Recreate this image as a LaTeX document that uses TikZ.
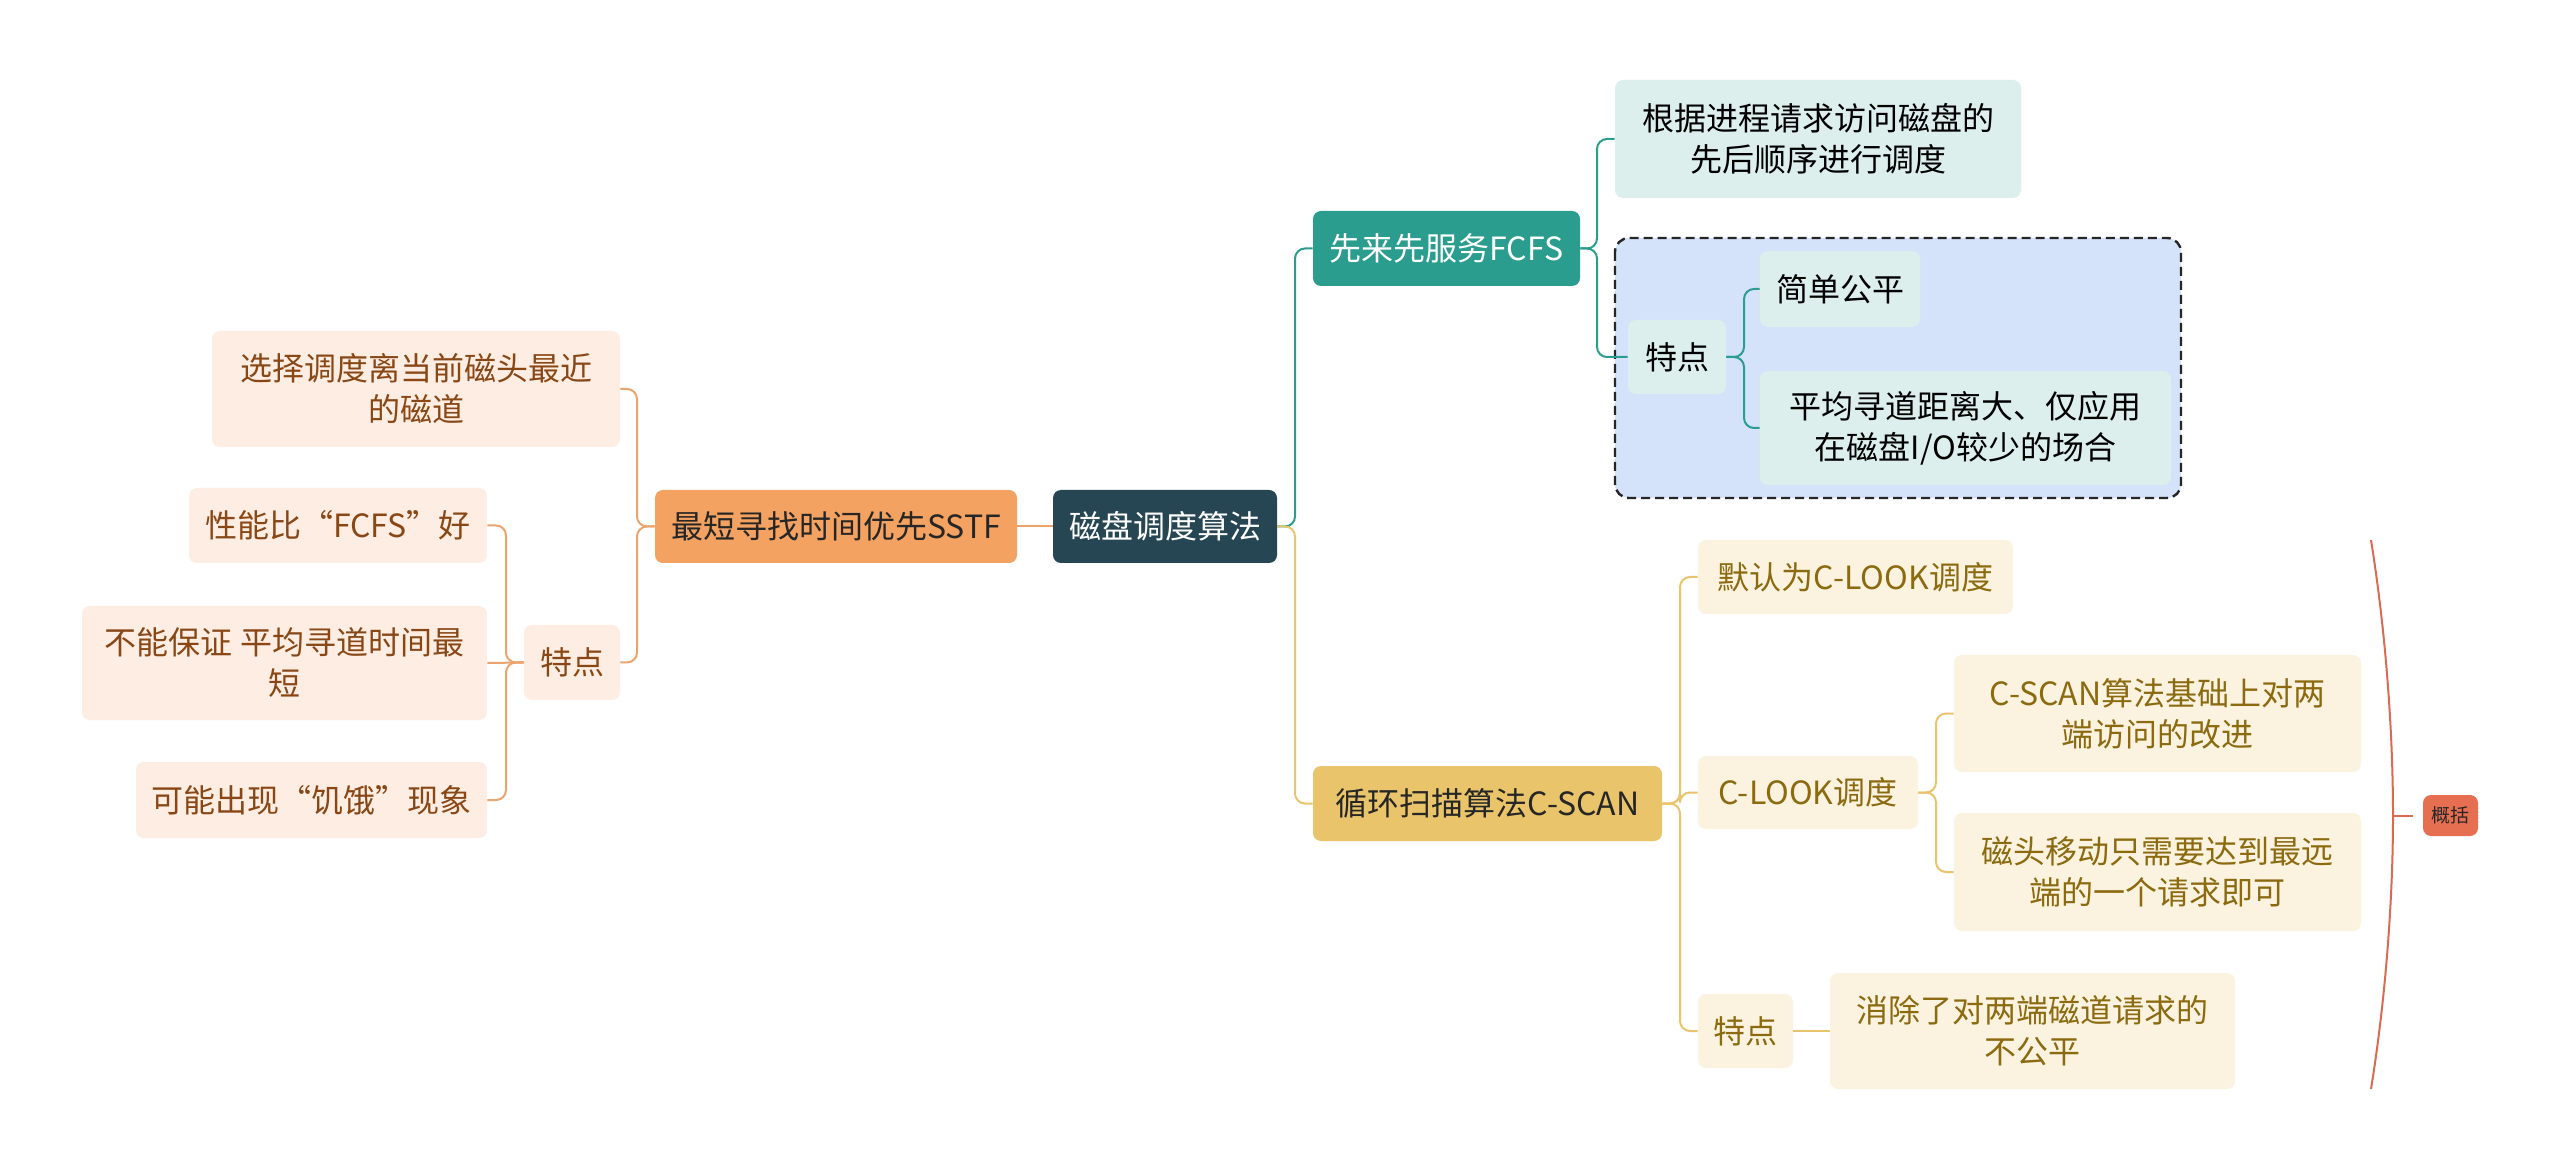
\documentclass[tikz,border=0pt]{standalone}
\usepackage{fontspec}
\setmainfont{Noto Sans CJK SC}
\definecolor{rootc}{HTML}{264653}
\definecolor{sstfc}{HTML}{F4A261}
\definecolor{lfill}{HTML}{FDEDE2}
\definecolor{ltext}{HTML}{8A4716}
\definecolor{lline}{HTML}{EBA46E}
\definecolor{fcfsc}{HTML}{2A9D8F}
\definecolor{ffill}{HTML}{DCEFEC}
\definecolor{dfill}{HTML}{D4E3FA}
\definecolor{cscanc}{HTML}{E9C46A}
\definecolor{cfill}{HTML}{FBF3DF}
\definecolor{ctext}{HTML}{8B6A10}
\definecolor{gkc}{HTML}{E76F51}
\definecolor{brc}{HTML}{D86B52}
\begin{document}
\begin{tikzpicture}[x=0.5pt,y=-0.5pt,
  box/.style={rounded corners=4pt, inner sep=0pt, align=center, font=\fontsize{16}{20.5}\selectfont},
  rootbox/.style={box, fill=rootc, text=white},
  sstfbox/.style={box, fill=sstfc, text=black!85},
  lleaf/.style={box, fill=lfill, text=ltext},
  fcfsbox/.style={box, fill=fcfsc, text=white},
  fleaf/.style={box, fill=ffill, text=black},
  cscanbox/.style={box, fill=cscanc, text=black!85},
  cleaf/.style={box, fill=cfill, text=ctext},
  lconn/.style={draw=lline, line width=1pt, rounded corners=5pt},
  fconn/.style={draw=fcfsc, line width=1pt, rounded corners=5pt},
  cconn/.style={draw=cscanc, line width=1pt, rounded corners=5pt},
]
\useasboundingbox (0,0) rectangle (2560,1170);
\fill[white] (0,0) rectangle (2560,1170);

% dashed group
\draw[fill=dfill, draw=black!85, dash pattern=on 4.5pt off 2.5pt, line width=1.2pt, rounded corners=7pt] (1615,238) rectangle (2181,498);

% root
\node[rootbox, minimum width=112pt, minimum height=36.5pt] (root) at (1165,526.5) {磁盘调度算法};

% SSTF branch
\node[sstfbox, minimum width=181pt, minimum height=36.5pt] (sstf) at (836,526.5) {最短寻找时间优先SSTF};
\node[lleaf, minimum width=204pt, minimum height=58pt] (l1) at (416,389) {选择调度离当前磁头最近\\的磁道};
\node[lleaf, minimum width=48pt, minimum height=37.5pt] (ltd) at (572,662.5) {特点};
\node[lleaf, minimum width=149pt, minimum height=37.5pt] (l2) at (338,525.5) {性能比“FCFS”好};
\node[lleaf, minimum width=202.5pt, minimum height=57pt] (l3) at (284.5,663) {不能保证 平均寻道时间最\\短};
\node[lleaf, minimum width=175.5pt, minimum height=38pt] (l4) at (311.5,800) {可能出现“饥饿”现象};

\draw[lconn] (root.west) -- (sstf.east);
\draw[lconn] (sstf.west) -- (637,526.5) -- (637,389) -- (l1.east);
\draw[lconn] (sstf.west) -- (637,526.5) -- (637,662.5) -- (ltd.east);
\draw[lconn] (ltd.west) -- (506,662.5) -- (506,525.5) -- (l2.east);
\draw[lconn] (ltd.west) -- (l3.east);
\draw[lconn] (ltd.west) -- (506,662.5) -- (506,800) -- (l4.east);

% FCFS branch
\node[fcfsbox, minimum width=133.5pt, minimum height=37.5pt] (fcfs) at (1446.5,248.5) {先来先服务FCFS};
\node[fleaf, minimum width=203pt, minimum height=59pt] (f1) at (1818,139) {根据进程请求访问磁盘的\\先后顺序进行调度};
\node[fleaf, minimum width=49pt, minimum height=37pt] (ftd) at (1677,357) {特点};
\node[fleaf, minimum width=80pt, minimum height=38pt] (f2) at (1840,289) {简单公平};
\node[fleaf, minimum width=205.5pt, minimum height=57pt] (f3) at (1965.5,428) {平均寻道距离大、仅应用\\在磁盘I/O较少的场合};

\draw[fconn] (root.east) -- (1295,526.5) -- (1295,248.5) -- (fcfs.west);
\draw[fconn] (fcfs.east) -- (1597,248.5) -- (1597,139) -- (f1.west);
\draw[fconn] (fcfs.east) -- (1597,248.5) -- (1597,357) -- (ftd.west);
\draw[fconn] (ftd.east) -- (1744,357) -- (1744,289) -- (f2.west);
\draw[fconn] (ftd.east) -- (1744,357) -- (1744,428) -- (f3.west);

% C-SCAN branch
\node[cscanbox, minimum width=174.5pt, minimum height=37.5pt] (cscan) at (1487.5,803.5) {循环扫描算法C-SCAN};
\node[cleaf, minimum width=157.5pt, minimum height=37pt] (c1) at (1855.5,577) {默认为C-LOOK调度};
\node[cleaf, minimum width=110pt, minimum height=36.5pt] (c2) at (1808,792.5) {C-LOOK调度};
\node[cleaf, minimum width=203.5pt, minimum height=58.5pt] (c3) at (2157.5,713.5) {C-SCAN算法基础上对两\\端访问的改进};
\node[cleaf, minimum width=203.5pt, minimum height=59pt] (c4) at (2157.5,872) {磁头移动只需要达到最远\\端的一个请求即可};
\node[cleaf, minimum width=47.5pt, minimum height=37pt] (ctd) at (1745.5,1031) {特点};
\node[cleaf, minimum width=202.5pt, minimum height=58pt] (c5) at (2032.5,1031) {消除了对两端磁道请求的\\不公平};

\draw[cconn] (root.east) -- (1295,526.5) -- (1295,803.5) -- (cscan.west);
\draw[cconn] (cscan.east) -- (1680,803.5) -- (1680,577) -- (c1.west);
\draw[cconn] (cscan.east) -- (1680,803.5) -- (1680,792.5) -- (c2.west);
\draw[cconn] (cscan.east) -- (1680,803.5) -- (1680,1031) -- (ctd.west);
\draw[cconn] (c2.east) -- (1936,792.5) -- (1936,713.5) -- (c3.west);
\draw[cconn] (c2.east) -- (1936,792.5) -- (1936,872) -- (c4.west);
\draw[cconn] (ctd.east) -- (c5.west);

% summary
\node[box, fill=gkc, text=black!85, font=\fontsize{9.5}{11}\selectfont, minimum width=27.5pt, minimum height=20.5pt] (gk) at (2450.5,815.5) {概括};
\coordinate (btop) at (2371,540);
\coordinate (bmid) at (2393,815.5);
\coordinate (bbot) at (2371,1089);
\draw[brc, line width=1pt] (btop) .. controls (2387,640) and (2393,740) .. (bmid) .. controls (2393,890) and (2387,990) .. (bbot);
\draw[brc, line width=1pt] (bmid) -- (2413,815.5);
\end{tikzpicture}
\end{document}
